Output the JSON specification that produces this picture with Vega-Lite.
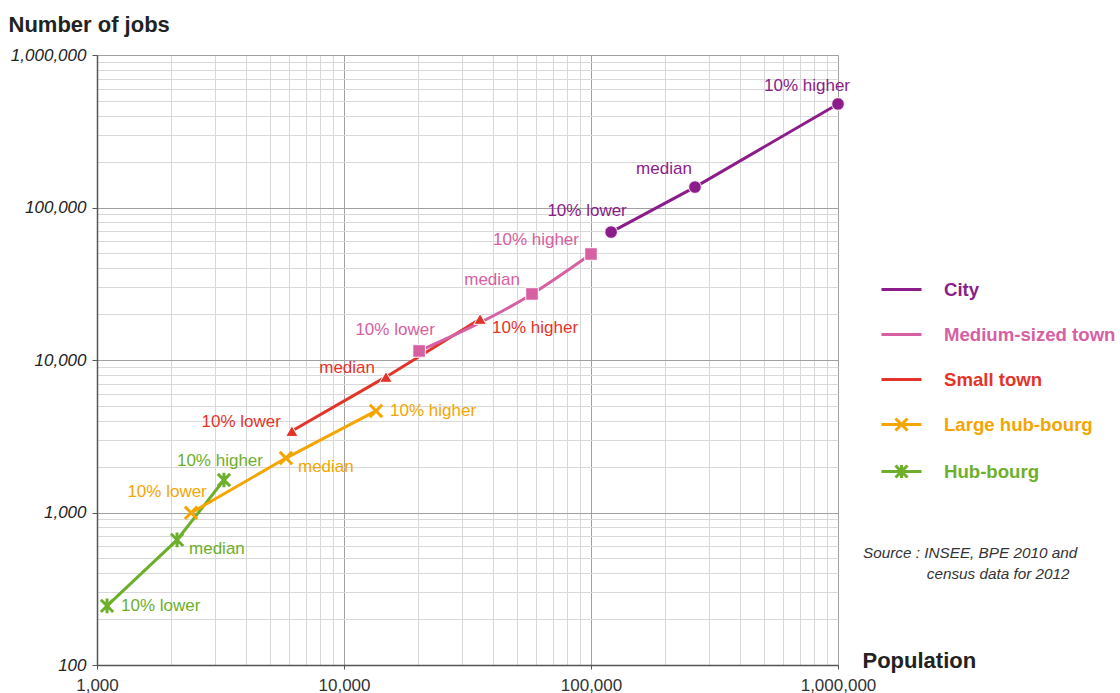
{
  "$schema": "https://vega.github.io/schema/vega-lite/v6.json",
  "width": 741,
  "height": 610,
  "autosize": {"type": "none"},
  "padding": {"left": 97, "top": 55, "right": 282, "bottom": 28},
  "background": "white",
  "config": {"font": "Liberation Sans", "view": {"stroke": null}},
  "title": {
    "text": ["Source : INSEE, BPE 2010 and", "\u200b\u00a0\u00a0\u00a0\u00a0\u00a0\u00a0\u00a0\u00a0\u00a0\u00a0\u00a0\u00a0\u00a0\u00a0\u00a0census data for 2012"],
    "orient": "top", "anchor": "start", "frame": "group",
    "dx": 766, "dy": 569, "offset": 0,
    "fontSize": 15.3, "font": "Liberation Sans", "fontStyle": "italic", "fontWeight": "normal",
    "color": "#333333", "lineHeight": 21
  },
  "data": {
    "values": [
      {"type": "Hub-bourg", "stat": "10% lower", "population": 1098, "jobs": 244},
      {"type": "Hub-bourg", "stat": "median", "population": 2109, "jobs": 661},
      {"type": "Hub-bourg", "stat": "10% higher", "population": 3266, "jobs": 1634},
      {"type": "Large hub-bourg", "stat": "10% lower", "population": 2404, "jobs": 995},
      {"type": "Large hub-bourg", "stat": "median", "population": 5822, "jobs": 2275},
      {"type": "Large hub-bourg", "stat": "10% higher", "population": 13480, "jobs": 4634},
      {"type": "Small town", "stat": "10% lower", "population": 6152, "jobs": 3420},
      {"type": "Small town", "stat": "median", "population": 14790, "jobs": 7745},
      {"type": "Small town", "stat": "10% higher", "population": 35560, "jobs": 18580},
      {"type": "Medium-sized town", "stat": "10% lower", "population": 20140, "jobs": 11460},
      {"type": "Medium-sized town", "stat": "median", "population": 57690, "jobs": 27100},
      {"type": "Medium-sized town", "stat": "10% higher", "population": 100000, "jobs": 49550},
      {"type": "City", "stat": "10% lower", "population": 120600, "jobs": 69000},
      {"type": "City", "stat": "median", "population": 263600, "jobs": 136100},
      {"type": "City", "stat": "10% higher", "population": 1000000, "jobs": 477600}
    ]
  },
  "encoding": {
    "x": {
      "field": "population", "type": "quantitative",
      "scale": {"type": "log", "domain": [1000, 1000000], "nice": false},
      "axis": {
        "values": [1000,2000,3000,4000,5000,6000,7000,8000,9000,10000,20000,30000,40000,50000,60000,70000,80000,90000,100000,200000,300000,400000,500000,600000,700000,800000,900000,1000000],
        "labelExpr": "indexof([1000,10000,100000,1000000], datum.value) >= 0 ? format(datum.value, ',') : ''",
        "labelFontSize": 17, "labelColor": "#333333", "labelFont": "Liberation Sans",
        "labelPadding": 8, "labelOverlap": false, "labelFlush": false, "labelBound": false,
        "tickSize": 4,
        "tickColor": {"condition": {"test": "indexof([1000,10000,100000,1000000], datum.value) >= 0", "value": "#555555"}, "value": "transparent"},
        "grid": true,
        "gridColor": {"condition": {"test": "indexof([1000,10000,100000,1000000], datum.value) >= 0", "value": "#a0a0a0"}, "value": "#d8d8d8"},
        "gridWidth": 1,
        "domainColor": "#555555", "domainWidth": 1.5,
        "title": "Population", "titleFontSize": 22, "titleFontWeight": "bold", "titleColor": "#222222",
        "titleFont": "Liberation Sans",
        "titleX": 765, "titleY": 2, "titleAlign": "left", "titleBaseline": "alphabetic"
      }
    },
    "y": {
      "field": "jobs", "type": "quantitative",
      "scale": {"type": "log", "domain": [100, 1000000], "nice": false},
      "axis": {
        "values": [100,200,300,400,500,600,700,800,900,1000,2000,3000,4000,5000,6000,7000,8000,9000,10000,20000,30000,40000,50000,60000,70000,80000,90000,100000,200000,300000,400000,500000,600000,700000,800000,900000,1000000],
        "labelExpr": "indexof([100,1000,10000,100000,1000000], datum.value) >= 0 ? format(datum.value, ',') : ''",
        "labelFontSize": 17, "labelColor": "#222222", "labelFont": "Liberation Sans", "labelFontStyle": "italic",
        "labelPadding": 6, "labelOverlap": false, "labelFlush": false, "labelBound": false,
        "tickSize": 5,
        "tickColor": {"condition": {"test": "indexof([100,1000,10000,100000,1000000], datum.value) >= 0", "value": "#555555"}, "value": "transparent"},
        "grid": true,
        "gridColor": {"condition": {"test": "indexof([100,1000,10000,100000,1000000], datum.value) >= 0", "value": "#a0a0a0"}, "value": "#d8d8d8"},
        "gridWidth": 1,
        "domainColor": "#555555", "domainWidth": 1.5,
        "title": "Number of jobs", "titleFontSize": 22, "titleFontWeight": "bold", "titleColor": "#222222",
        "titleFont": "Liberation Sans",
        "titleAngle": 0, "titleX": -89, "titleY": -24, "titleAlign": "left", "titleBaseline": "alphabetic"
      }
    },
    "color": {
      "field": "type", "type": "nominal",
      "scale": {
        "domain": ["City", "Medium-sized town", "Small town", "Large hub-bourg", "Hub-bourg"],
        "range": ["#8b1c89", "#d660a2", "#e4342a", "#f5a500", "#6daf2b"]
      },
      "legend": {
        "orient": "none", "legendX": 783, "legendY": 213, "title": null, "padding": 0,
        "symbolSize": 1600, "symbolType": "stroke", "symbolStrokeWidth": 3, "symbolOffset": 0,
        "labelOffset": 21, "labelFontSize": 18.6, "labelFontWeight": "bold", "labelFont": "Liberation Sans",
        "rowPadding": 13, "labelLimit": 400,
        "encode": {
          "symbols": {
            "update": {
              "shape": {"signal": "datum.value === 'Large hub-bourg' ? 'M-1,0L1,0M-0.3,-0.3L0.3,0.3M-0.3,0.3L0.3,-0.3' : (datum.value === 'Hub-bourg' ? 'M-1,0L1,0M-0.3,-0.3L0.3,0.3M-0.3,0.3L0.3,-0.3M0,-0.33L0,0.33' : 'M-1,0L1,0')"},
              "stroke": {"scale": "color", "field": "value"},
              "fill": {"value": "transparent"},
              "strokeWidth": {"value": 3},
              "size": {"value": 1600},
              "opacity": {"value": 1}
            }
          },
          "labels": {"update": {"fill": {"scale": "color", "field": "value"}}}
        }
      }
    }
  },
  "layer": [
    {
      "transform": [{"filter": "datum.type != 'Medium-sized town'"}],
      "mark": {"type": "line", "strokeWidth": 3}
    },
    {
      "transform": [{"filter": "datum.type == 'Medium-sized town'"}],
      "mark": {"type": "line", "strokeWidth": 3, "interpolate": "monotone"}
    },
    {
      "transform": [
        {"filter": "indexof(['City','Medium-sized town','Small town'], datum.type) >= 0"},
        {"calculate": "datum.type + ' marker'", "as": "marker"}
      ],
      "mark": {"type": "point", "filled": true, "opacity": 1, "stroke": "white", "strokeWidth": 1},
      "encoding": {
        "color": {"field": "type", "type": "nominal", "legend": null},
        "shape": {
          "field": "marker", "type": "nominal", "legend": null,
          "scale": {
            "domain": ["City marker", "Medium-sized town marker", "Small town marker", "Large hub-bourg marker", "Hub-bourg marker"],
            "range": ["circle", "square", "triangle-up", "M-1,-1L1,1M-1,1L1,-1", "M-1,-1L1,1M-1,1L1,-1M0,-1.2L0,1.2"]
          }
        },
        "size": {"field": "marker", "type": "nominal", "legend": null,
          "scale": {"domain": ["City marker", "Medium-sized town marker", "Small town marker", "Large hub-bourg marker", "Hub-bourg marker"], "range": [160, 150, 150, 196, 196]}}
      }
    },
    {
      "transform": [
        {"filter": "indexof(['Large hub-bourg','Hub-bourg'], datum.type) >= 0"},
        {"calculate": "datum.type + ' marker'", "as": "marker"}
      ],
      "mark": {"type": "point", "filled": false, "opacity": 1, "strokeWidth": 3},
      "encoding": {
        "color": {"field": "type", "type": "nominal", "legend": null},
        "shape": {"field": "marker", "type": "nominal", "legend": null},
        "size": {"field": "marker", "type": "nominal", "legend": null}
      }
    },
    {
      "transform": [{"filter": "indexof(['Hub-bourg|10% lower','Large hub-bourg|10% higher'], datum.type + '|' + datum.stat) >= 0"}],
      "mark": {"type": "text", "align": "left", "baseline": "middle", "dx": 14, "dy": 0, "fontSize": 17, "font": "Liberation Sans"},
      "encoding": {"text": {"field": "stat"}, "color": {"field": "type", "type": "nominal", "legend": null}}
    },
    {
      "transform": [{"filter": "indexof(['Hub-bourg|median','Large hub-bourg|median','Small town|10% higher'], datum.type + '|' + datum.stat) >= 0"}],
      "mark": {"type": "text", "align": "left", "baseline": "middle", "dx": 12, "dy": 9, "fontSize": 17, "font": "Liberation Sans"},
      "encoding": {"text": {"field": "stat"}, "color": {"field": "type", "type": "nominal", "legend": null}}
    },
    {
      "transform": [{"filter": "indexof(['Small town|10% lower','Small town|median'], datum.type + '|' + datum.stat) >= 0"}],
      "mark": {"type": "text", "align": "right", "baseline": "middle", "dx": -11, "dy": -9, "fontSize": 17, "font": "Liberation Sans"},
      "encoding": {"text": {"field": "stat"}, "color": {"field": "type", "type": "nominal", "legend": null}}
    },
    {
      "transform": [{"filter": "indexof(['Medium-sized town|median','Medium-sized town|10% higher'], datum.type + '|' + datum.stat) >= 0"}],
      "mark": {"type": "text", "align": "right", "baseline": "middle", "dx": -12, "dy": -14, "fontSize": 17, "font": "Liberation Sans"},
      "encoding": {"text": {"field": "stat"}, "color": {"field": "type", "type": "nominal", "legend": null}}
    },
    {
      "transform": [{"filter": "indexof(['Large hub-bourg|10% lower','Medium-sized town|10% lower','City|10% lower'], datum.type + '|' + datum.stat) >= 0"}],
      "mark": {"type": "text", "align": "center", "baseline": "middle", "dx": -24, "dy": -21, "fontSize": 17, "font": "Liberation Sans"},
      "encoding": {"text": {"field": "stat"}, "color": {"field": "type", "type": "nominal", "legend": null}}
    },
    {
      "transform": [{"filter": "indexof(['City|median','City|10% higher'], datum.type + '|' + datum.stat) >= 0"}],
      "mark": {"type": "text", "align": "center", "baseline": "middle", "dx": -31, "dy": -18, "fontSize": 17, "font": "Liberation Sans"},
      "encoding": {"text": {"field": "stat"}, "color": {"field": "type", "type": "nominal", "legend": null}}
    },
    {
      "transform": [{"filter": "datum.type == 'Hub-bourg' && datum.stat == '10% higher'"}],
      "mark": {"type": "text", "align": "center", "baseline": "middle", "dx": -4, "dy": -19, "fontSize": 17, "font": "Liberation Sans"},
      "encoding": {"text": {"field": "stat"}, "color": {"field": "type", "type": "nominal", "legend": null}}
    }
  ]
}
